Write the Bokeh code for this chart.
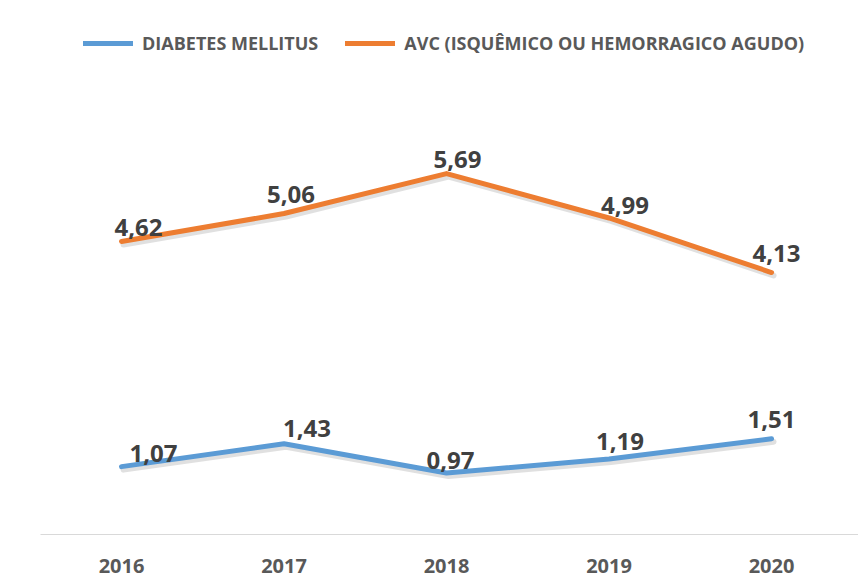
from bokeh.plotting import figure
from bokeh.models import Range1d, Legend, LegendItem, ColumnDataSource, FixedTicker
from bokeh.core.properties import value
from bokeh.embed import file_html
from bokeh.resources import INLINE

# ---- data ----
years = [2016, 2017, 2018, 2019, 2020]
year_labels = ["2016", "2017", "2018", "2019", "2020"]
diabetes = [1.07, 1.43, 0.97, 1.19, 1.51]
avc = [4.62, 5.06, 5.69, 4.99, 4.13]
series_names = ["DIABETES MELLITUS", "AVC (ISQUÊMICO OU HEMORRAGICO AGUDO)"]

# ---- styling: label pixel offsets (screen px) ----
diab_dx = [32, 23, 4, 11, 0]
diab_dy = [-13, -15, -12, -18, -19]
avc_dx = [17, 7, 11, 16, 5]
avc_dy = [-14, -19, -14, -12, -19]

BLUE = "#5B9BD5"
ORANGE = "#ED7D31"
FONT = "Open Sans"

p = figure(width=858, height=582, output_backend="svg", toolbar_location=None,
           x_range=Range1d(2015.5015, 2020.535), y_range=Range1d(0, 8.103),
           min_border_left=40, min_border_right=0, min_border_top=20, min_border_bottom=48)
p.outline_line_color = None
p.xgrid.visible = False
p.ygrid.visible = False
p.yaxis.visible = False

p.xaxis.ticker = FixedTicker(ticks=years)
p.xaxis.major_label_overrides = {y: l for y, l in zip(years, year_labels)}
p.xaxis.axis_line_color = "#d9d9d9"
p.xaxis.axis_line_width = 1
p.xaxis.major_tick_line_color = None
p.xaxis.minor_tick_line_color = None
p.xaxis.major_label_text_font = FONT
p.xaxis.major_label_text_font_style = "bold"
p.xaxis.major_label_text_font_size = "20px"
p.xaxis.major_label_text_color = "#595959"
p.xaxis.major_label_standoff = 18

def fmt(v):
    return f"{v:.2f}".replace(".", ",")

# shadows (offset slightly down-right)
sx = 2 / 162.5
sy = 3 / 63.43
for vals in (diabetes, avc):
    p.line([x + sx for x in years], [v - sy for v in vals], line_color="#000000",
           line_alpha=0.12, line_width=6, line_join="round", line_cap="round")

renderers = []
for vals, color, dx, dy in ((diabetes, BLUE, diab_dx, diab_dy), (avc, ORANGE, avc_dx, avc_dy)):
    r = p.line(years, vals, line_color=color, line_width=5, line_join="round", line_cap="round")
    renderers.append(r)
    src = ColumnDataSource(dict(x=years, y=vals, t=[fmt(v) for v in vals], dx=dx, dy=dy))
    p.text(x="x", y="y", text="t", source=src, x_offset="dx", y_offset="dy",
           text_align="center", text_baseline="alphabetic",
           text_font=value(FONT), text_font_style="bold", text_font_size="24px",
           text_color="#404040")

# legend
legend = Legend(items=[LegendItem(label=series_names[0], renderers=[renderers[0]]),
                       LegendItem(label=series_names[1], renderers=[renderers[1]])],
                orientation="horizontal", location=(43, 479),
                glyph_width=50, glyph_height=20, label_standoff=9, spacing=27,
                padding=0, margin=0, border_line_color=None, background_fill_alpha=0,
                label_text_font=FONT, label_text_font_style="bold",
                label_text_font_size="18px", label_text_color="#595959")
p.add_layout(legend, "center")

open("out.html", "w").write(file_html(p, INLINE))
